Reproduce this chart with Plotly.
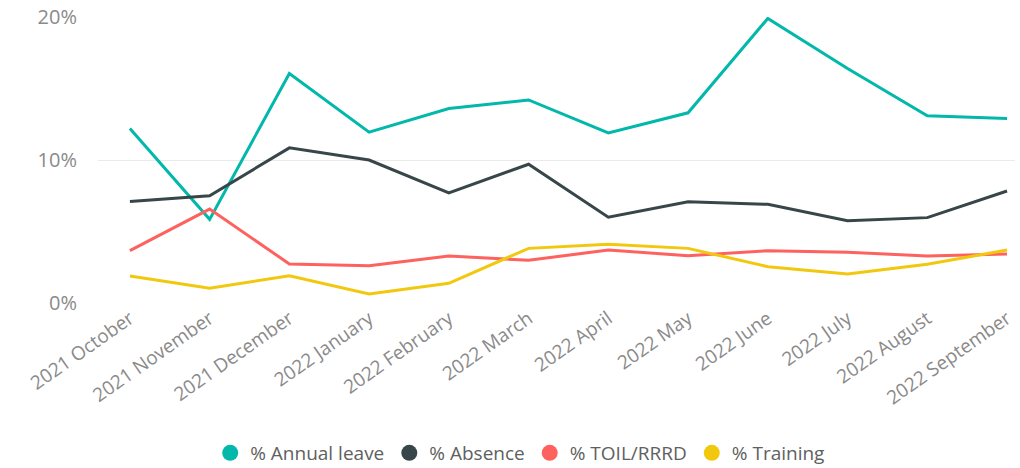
import plotly.graph_objects as go

months = ["2021 October", "2021 November", "2021 December", "2022 January",
          "2022 February", "2022 March", "2022 April", "2022 May",
          "2022 June", "2022 July", "2022 August", "2022 September"]

annual_leave = [12.2, 5.85, 16.05, 11.95, 13.6, 14.2, 11.9, 13.3, 19.9, 16.4, 13.1, 12.9]
absence = [7.1, 7.5, 10.85, 10.0, 7.7, 9.7, 6.0, 7.08, 6.9, 5.76, 5.97, 7.83]
toil_rrrd = [3.66, 6.57, 2.73, 2.61, 3.29, 2.99, 3.7, 3.31, 3.66, 3.55, 3.29, 3.43]
training = [1.89, 1.03, 1.91, 0.63, 1.38, 3.82, 4.1, 3.82, 2.54, 2.03, 2.71, 3.7]

y_ticks = [0, 10, 20]
y_tick_text = ["0%", "10%", "20%"]

series = [
    ("% Annual leave", annual_leave, "#01B8AA"),
    ("% Absence", absence, "#374649"),
    ("% TOIL/RRRD", toil_rrrd, "#FD625E"),
    ("% Training", training, "#F2C80F"),
]

FONT = "Open Sans, Segoe UI, sans-serif"

fig = go.Figure()
for name, values, color in series:
    fig.add_trace(go.Scatter(
        x=months, y=values, mode="lines", name=name,
        line=dict(color=color, width=3), showlegend=False,
        hovertemplate="%{x}<br>" + name + ": %{y:.1f}%<extra></extra>",
    ))
# legend entries drawn as round markers
for name, values, color in series:
    fig.add_trace(go.Scatter(
        x=[None], y=[None], mode="markers", name=name,
        marker=dict(color=color, size=18, symbol="circle"),
        showlegend=True,
    ))

fig.update_layout(
    width=1020, height=468,
    margin=dict(l=98, r=5, t=17, b=165, autoexpand=False),
    paper_bgcolor="white", plot_bgcolor="white",
    font=dict(family=FONT, color="#777777"),
    showlegend=True,
    legend=dict(
        orientation="h", xref="container", x=0.51, xanchor="center",
        yref="container", y=0.032, yanchor="middle",
        font=dict(size=19, color="#606060", family=FONT),
        itemwidth=30, tracegroupgap=0,
    ),
    xaxis=dict(
        type="category", range=[-0.4, 11.1],
        showgrid=False, zeroline=False, showline=False,
        tickangle=-35, tickfont=dict(size=19, color="#8a8a8a"),
        ticks="", ticklen=0, automargin=False,
    ),
    yaxis=dict(
        range=[0, 20], tickmode="array", tickvals=y_ticks, ticktext=y_tick_text,
        showgrid=True, gridcolor="#eaeaea", gridwidth=1,
        zeroline=False, showline=False,
        tickfont=dict(size=20, color="#8a8a8a"),
        ticks="", ticklabelstandoff=20, automargin=False,
    ),
)

fig.write_html("out.html")
